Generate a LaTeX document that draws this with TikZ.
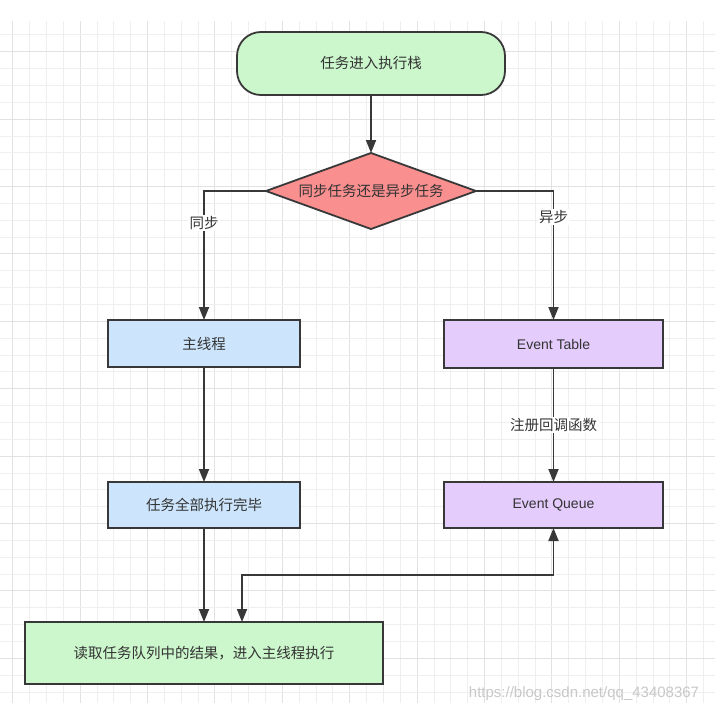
\documentclass[tikz,border=0pt]{standalone}
\usepackage{fontspec}
\newfontfamily\cjk{Noto Sans CJK SC}
\newfontfamily\lat{Liberation Sans}
\usetikzlibrary{shapes.geometric,arrows.meta}
\definecolor{txt}{HTML}{333333}
\definecolor{edge}{HTML}{383838}
\definecolor{gminor}{HTML}{EFEFEF}
\definecolor{gmajor}{HTML}{E2E2E2}
\definecolor{fgreen}{HTML}{CCF6CC}
\definecolor{fpink}{HTML}{F98F8F}
\definecolor{fblue}{HTML}{CCE5FC}
\definecolor{fpurple}{HTML}{E4CCFC}
\definecolor{wmark}{HTML}{C8C8C8}
\tikzset{
  txtfont/.style={font=\cjk\fontsize{14.5}{17}\selectfont},
  box/.style={rectangle, draw=edge, line width=1.8pt, inner sep=0pt, outer sep=0pt, text=txt, txtfont},
  term/.style={box, rounded corners=24pt, fill=fgreen, minimum width=268pt, minimum height=63pt},
  dec/.style={diamond, draw=edge, line width=1.8pt, inner sep=0pt, outer sep=0pt, text=txt, txtfont, fill=fpink, minimum width=210pt, minimum height=76pt, aspect=2.76},
  conn/.style={draw=edge, line width=1.8pt, -{Triangle[length=13pt,width=10pt]}},
  conn2/.style={draw=edge, line width=1.8pt, {Triangle[length=13pt,width=10pt]}-{Triangle[length=13pt,width=10pt]}},
  lbl/.style={fill=white, inner sep=1.5pt, text=txt, txtfont},
  gmin/.style={draw=gminor, line width=0.9pt},
  gmaj/.style={draw=gmajor, line width=0.9pt}
}
\begin{document}
\begin{tikzpicture}[x=1pt,y=-1pt]
\useasboundingbox (0,0) rectangle (715,712);
\fill[white] (0,0) rectangle (715,712);
% grid
\begin{scope}
\clip (0,21) rectangle (715,703);
\foreach \k in {0,...,41} {
  \pgfmathsetmacro\xx{12.7+16.85*\k}
  \pgfmathtruncatemacro\m{mod(\k,4)}
  \ifnum\m=0 \draw[gmaj] (\xx,21) -- (\xx,703); \else \draw[gmin] (\xx,21) -- (\xx,703); \fi
}
\foreach \k in {-1,...,38} {
  \pgfmathsetmacro\yy{51.7+16.85*\k}
  \pgfmathtruncatemacro\m{mod(\k+4,4)}
  \ifnum\m=0 \draw[gmaj] (0,\yy) -- (715,\yy); \else \draw[gmin] (0,\yy) -- (715,\yy); \fi
}
\end{scope}
% nodes
\node[term] (start) at (371,63.5) {任务进入执行栈};
\node[dec] (dec) at (371,191) {同步任务还是异步任务};
\node[box, fill=fblue, minimum width=192pt, minimum height=47pt] (main) at (204,343.5) {主线程};
\node[box, fill=fpurple, minimum width=219pt, minimum height=48pt, font=\lat\fontsize{14}{17}\selectfont] (etab) at (553.5,344) {Event Table};
\node[box, fill=fblue, minimum width=192pt, minimum height=46pt] (done) at (204,505) {任务全部执行完毕};
\node[box, fill=fpurple, minimum width=219pt, minimum height=46pt, font=\lat\fontsize{14}{17}\selectfont] (eq) at (553.5,505) {Event Queue};
\node[box, fill=fgreen, minimum width=358pt, minimum height=62pt] (read) at (204,653) {读取任务队列中的结果，进入主线程执行};
\node[font=\lat\fontsize{15}{17}\selectfont, text=wmark, inner sep=0pt] (wm) at (584,694) {https://blog.csdn.net/qq\_43408367};
% connectors
\coordinate (c1) at (553.5,575);
\coordinate (c2) at (242,575);
\draw[conn] (start) -- (dec);
\draw[conn] (dec.west) -| node[lbl, pos=0.624] {同步} (main.north);
\draw[conn] (dec.east) -| node[lbl, pos=0.6] {异步} (etab.north);
\draw[conn] (etab) -- node[lbl, pos=0.5] {注册回调函数} (eq);
\draw[conn] (main) -- (done);
\draw[conn] (done) -- (read);
\draw[conn2] (eq.south) -- (c1) -- (c2) -- (c2 |- read.north);
\end{tikzpicture}
\end{document}
